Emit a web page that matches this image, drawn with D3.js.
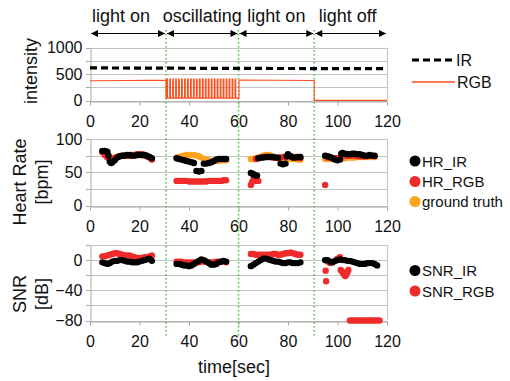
<!DOCTYPE html>
<html>
<head>
<meta charset="utf-8">
<script src="https://cdn.jsdelivr.net/npm/d3@7"></script>
<style>
  body { margin: 0; background: #fff; }
  svg { display: block; font-family: "Liberation Sans", Arial, sans-serif; }
</style>
</head>
<body>
<svg id="chart" width="510" height="381"></svg>
<script>
// phases of the experiment (seconds)
const phaseNames = ["light on", "oscillating", "light on", "light off"];
const phaseBounds = [0, 30.7, 60, 90.6, 120];

// light intensity
const irIntensity = [[0, 615], [30, 610], [60, 605], [90, 603], [120, 600]];
const rgbBefore = [[0, 372], [15, 378], [30.7, 385]];
const rgbAfter = [[60.2, 385], [75, 381], [90.6, 378], [90.6, 3], [120, 3]];
const oscPulseStarts = [31.0, 32.2, 33.4, 34.6, 35.8, 37.0, 38.2, 39.4, 40.6, 41.8, 43.0, 44.2,
  45.4, 46.6, 47.8, 49.0, 50.2, 51.4, 52.6, 53.8, 55.0, 56.2, 57.4, 58.6];
const oscHigh = 405, oscLow = 45, oscWidth = 0.3;

// heart rate [bpm]
const hrGround = [
  [5,80],[6,77],[7,74],[8,72],[9,72],[10,72],[11,73],[12,74],[13,75],[14,75],[15,75],[16,75],[17,75],[18,76],[19,76],[20,76],[21,76],[22,75],[23,74],[24,72],[25,70],
  [35,72],[36,73],[37,74],[38,75],[39,76],[40,76],[41,76],[42,76],[43,75],[44,74],[45,72],[46,70],[47,69],[48,68],[49,67],[50,67],[51,67],[52,67],[53,68],[54,68],[55,68],
  [65,70],[66,70],[67,71],[68,72],[69,73],[70,75],[71,76],[72,76],[73,75],[74,73],[75,72],[76,71],[77,71],[78,71],[79,71],[80,71],[81,70],[82,70],[83,70],[84,69],[85,69],
  [95,70],[96,70],[97,70],[98,70],[99,70],[100,70],[101,71],[102,71],[103,71],[104,72],[105,72],[106,72],[107,72],[108,73],[109,73],[110,73],[111,73],[112,73],[113,73],[114,73],[115,73]
];
const hrRGB = [
  [5,80],[6,76],[7,72],[8,70],[9,70],[10,71],[11,73],[12,74],[13,75],[14,75],[15,75],[16,75],[17,76],[18,76],[19,77],[20,77],[21,77],[22,76],[23,74],[24,72],[25,69],
  [35,37],[36,37],[37,37],[38,37],[39,37],[40,36],[41,36],[42,36],[43,36],[44,36],[45,36],[46,36],[47,36],[48,37],[49,37],[50,37],[51,37],[52,37],[53,37],[54,38],[55,38],
  [65,31],[65.5,35],[66,39],[66.5,40],[67,38],[67.5,37],[68,37],
  [67,70],[68,71],[69,72],[70,73],[71,73],[72,73],[73,73],[74,72],[75,72],[76,72],[77,72],[78,73],[79,73],[80,74],[81,74],[82,73],[83,73],[84,72],[85,71],
  [95,31],
  [96,72],[97,72],[98,71],[99,71],[100,71],[101,72],[102,74],[103,75],[104,75],[105,75],[106,75],[107,75],[108,74],[109,74],[110,74],[111,74],[112,74],[113,75],[114,75],[115,74]
];
const hrIR = [
  [5,82],[6,82],[7,81],[7.5,75],[8,66],[8.5,64],[9,65],[10,68],[11,72],[12,74],[13,75],[14,75],[15,76],[16,76],[17,75],[18,75],[19,76],[20,76],[21,76],[22,76],[23,75],[24,73],[25,71],
  [35,71],[36,70],[37,69],[38,68],[39,67],[40,66],[41,65],[42,64],[43,52],[44,51],[45,52],[46,63],[47,63],[48,64],[49,65],[50,67],[51,69],[52,70],[53,70],[54,70],[55,70],
  [65,49],[65.5,48],[66,47],[66.5,46],[67,45],[67.5,45],
  [68,71],[69,72],[70,72],[71,73],[72,73],[73,73],[74,73],[75,72],[76,72],[77,63],[78,62],[79,63],[79.5,74],[80,77],[81,74],[82,72],[83,72],[84,73],[85,73],
  [95,75],[96,74],[97,73],[98,71],[99,69],[100,68],[101,69],[101.5,78],[102,79],[103,78],[104,77],[105,77],[106,78],[107,78],[108,77],[109,77],[110,76],[111,75],[112,75],[113,76],[114,75],[115,75]
];

// SNR [dB]
const snrRGB = [
  [5,5],[6,5],[7,6],[8,7],[9,8],[10,9],[11,9],[12,8],[13,7],[14,6],[15,6],[16,6],[17,5],[18,4],[19,3],[20,3],[21,3],[22,4],[23,4],[24,5],[25,6],
  [35,-2],[36,-2],[37,-2],[38,-3],[39,-3],[40,-3],[41,-3],[42,-3],[43,-3],[44,-3],[45,-2],[46,-2],[47,-2],[48,-3],[49,-3],[50,-3],[51,-2],[52,-2],[53,-2],[54,-2],[55,-3],
  [65,8],[66,8],[67,7],[68,7],[69,7],[70,7],[71,7],[72,7],[73,7],[74,8],[75,8],[76,7],[77,7],[78,8],[79,9],[80,9],[81,10],[82,9],[83,8],[84,7],[85,7],
  [95.2,-14],[95.4,-28],[96,-2],[97,-4],[98,-3],[99,-1],[100,2],[101,4],
  [101.3,-13],[101.8,-15],[102.3,-17],[102.8,-20],[103.2,-21],[103.6,-19],[104,-16],[104.4,-13],
  [105,-80],[106,-80],[107,-80],[108,-80],[109,-80],[110,-80],[111,-80],[112,-80],[113,-80],[114,-80],[115,-80],[116,-80],[117,-80]
];
const snrIR = [
  [5,-3],[6,-4],[7,-5],[8,-4],[9,-2],[10,-1],[11,-1],[12,0],[13,0],[14,-1],[15,-2],[16,-2],[17,-3],[18,-3],[19,-3],[20,-2],[21,-1],[22,0],[23,1],[24,2],[25,-1],
  [35,-5],[36,-5],[37,-6],[38,-7],[39,-7],[40,-8],[41,-7],[42,-5],[43,-3],[44,-1],[45,1],[46,0],[47,-2],[48,-4],[49,-6],[50,-6],[51,-5],[52,-3],[53,-2],[54,-1],[55,-2],
  [65,-8],[66,-6],[67,-4],[68,-2],[69,0],[70,2],[71,2],[72,1],[73,0],[74,-1],[75,-2],[76,-2],[77,-3],[78,-4],[79,-4],[80,-3],[81,-3],[82,-4],[83,-4],[84,-4],[85,-3],
  [95,0],[96,0],[97,-2],[98,-3],[99,-1],[100,0],[101,1],[102,0],[103,0],[104,-1],[105,-1],[106,-2],[107,-3],[108,-4],[109,-5],[110,-5],[111,-5],[112,-4],[113,-4],[114,-4],[115,-5],[116,-7]
];

const timeTicks = [0, 20, 40, 60, 80, 100, 120];

const RED = "#ee2a2a", ORANGE = "#ffa41c", LINE_RGB = "#ff4f1f", GREEN = "#3ec43e";

const svg = d3.select("#chart");
svg.append("rect").attr("width", 510).attr("height", 381).attr("fill", "#fff");

const x = d3.scaleLinear().domain([0, 120]).range([90, 387]);
const yI = d3.scaleLinear().domain([0, 1000]).range([100.5, 47.5]);
const yHR = d3.scaleLinear().domain([0, 100]).range([205.5, 139]);
const ySNR = d3.scaleLinear().domain([-80, 20]).range([320.5, 245]);

function panel(y, gridStep, labels) {
  const g = svg.append("g");
  const [lo, hi] = y.domain();
  const grid = d3.range(lo, hi + 0.01, gridStep);
  g.selectAll("line.grid").data(grid).join("line")
    .attr("x1", x(0)).attr("x2", x(120))
    .attr("y1", d => Math.round(y(d)) + 0.5).attr("y2", d => Math.round(y(d)) + 0.5)
    .attr("stroke", "#c4c4c4");
  g.append("line").attr("x1", Math.round(x(120)) + 0.5).attr("x2", Math.round(x(120)) + 0.5)
    .attr("y1", y(lo)).attr("y2", y(hi)).attr("stroke", "#c4c4c4");
  // minor ticks on every grid line
  g.selectAll("line.tick").data(grid).join("line")
    .attr("x1", x(0) - 4).attr("x2", x(0))
    .attr("y1", d => Math.round(y(d)) + 0.5).attr("y2", d => Math.round(y(d)) + 0.5)
    .attr("stroke", "#a8a8a8");
  const left = g.append("g").attr("transform", `translate(${Math.round(x(0)) + 0.5},0)`)
    .call(d3.axisLeft(y).tickValues(labels).tickSize(0).tickPadding(8).tickFormat(d3.format("d")));
  left.select(".domain").attr("stroke", "#a8a8a8");
  const bottom = g.append("g").attr("transform", `translate(0,${Math.round(y(lo)) + 0.5})`)
    .call(d3.axisBottom(x).tickValues(timeTicks).tickSize(4).tickPadding(10));
  bottom.select(".domain").attr("stroke", "#a8a8a8");
  bottom.selectAll(".tick line").attr("stroke", "#a8a8a8");
  g.selectAll(".tick text").attr("font-size", 16).attr("fill", "#111")
    .attr("font-family", "Liberation Sans, Arial, sans-serif");
  return g;
}

panel(yI, 250, [0, 500, 1000]);
panel(yHR, 25, [0, 50, 100]);
panel(ySNR, 20, [-80, -40, 0]);

// phase separators
svg.selectAll("line.sep").data(phaseBounds.slice(1, 4)).join("line")
  .attr("x1", d => x(d)).attr("x2", d => x(d)).attr("y1", 30).attr("y2", 336)
  .attr("stroke", GREEN).attr("stroke-width", 1.5).attr("stroke-dasharray", "1.5,2.5");

// phase arrows and labels
const defs = svg.append("defs");
["s", "e"].forEach(k => {
  defs.append("marker").attr("id", "arr-" + k).attr("viewBox", "0 0 10 10")
    .attr("refX", k === "e" ? 10 : 0).attr("refY", 5)
    .attr("markerWidth", 8).attr("markerHeight", 7).attr("markerUnits", "userSpaceOnUse")
    .attr("orient", "auto")
    .append("path").attr("d", k === "e" ? "M0,0L10,5L0,10Z" : "M10,0L0,5L10,10Z").attr("fill", "#000");
});
const phases = phaseNames.map((name, i) => ({ name, a: phaseBounds[i], b: phaseBounds[i + 1] }));
svg.selectAll("line.arrow").data(phases).join("line")
  .attr("x1", d => x(d.a) + 1).attr("x2", d => x(d.b) - 1).attr("y1", 33.5).attr("y2", 33.5)
  .attr("stroke", "#000").attr("stroke-width", 1.2)
  .attr("marker-start", "url(#arr-s)").attr("marker-end", "url(#arr-e)");
const labelShift = [-7, 0, 0, -3];
svg.selectAll("text.phase").data(phases).join("text")
  .attr("x", (d, i) => x((d.a + d.b) / 2) + labelShift[i]).attr("y", 22)
  .attr("text-anchor", "middle").attr("font-size", 18).attr("fill", "#111").text(d => d.name);

// intensity lines
const line = d3.line().x(d => x(d[0])).y(d => yI(d[1]));
const rgbLine = [...rgbBefore, [rgbBefore[rgbBefore.length - 1][0], oscLow]];
oscPulseStarts.forEach(t => {
  rgbLine.push([t, oscLow], [t, oscHigh], [t + oscWidth, oscHigh], [t + oscWidth, oscLow]);
});
rgbLine.push([rgbAfter[0][0], oscLow], ...rgbAfter);
svg.append("path").datum(rgbLine).attr("d", line).attr("fill", "none")
  .attr("stroke", LINE_RGB).attr("stroke-width", 1.1);
svg.append("path").datum(irIntensity).attr("d", line).attr("fill", "none")
  .attr("stroke", "#000").attr("stroke-width", 3.2).attr("stroke-dasharray", "7,4");

// scatter series
function dots(data, y, color) {
  svg.append("g").selectAll("circle").data(data).join("circle")
    .attr("cx", d => x(d[0])).attr("cy", d => y(d[1])).attr("r", 3.2).attr("fill", color);
}
dots(hrGround, yHR, ORANGE);
dots(hrRGB, yHR, RED);
dots(hrIR, yHR, "#000");
dots(snrRGB, ySNR, RED);
dots(snrIR, ySNR, "#000");

// axis titles
function vTitle(lines, cx, cy) {
  const t = svg.append("text").attr("transform", `translate(${cx},${cy}) rotate(-90)`)
    .attr("text-anchor", "middle").attr("font-size", 18).attr("fill", "#111");
  lines.forEach((s, i) => t.append("tspan").attr("x", 0).attr("dy", i === 0 ? 0 : 22).text(s));
}
vTitle(["intensity"], 37, 71);
vTitle(["Heart Rate", "[bpm]"], 26, 182);
vTitle(["SNR", "[dB]"], 26, 294);
svg.append("text").attr("x", 234).attr("y", 373).attr("text-anchor", "middle")
  .attr("font-size", 18).attr("fill", "#111").text("time[sec]");

// legends
const lg = svg.append("g").attr("font-size", 16).attr("fill", "#111");
lg.append("line").attr("x1", 412).attr("x2", 452).attr("y1", 60).attr("y2", 60)
  .attr("stroke", "#000").attr("stroke-width", 3.2).attr("stroke-dasharray", "7,4");
lg.append("text").attr("x", 456).attr("y", 66).text("IR");
lg.append("line").attr("x1", 412).attr("x2", 455).attr("y1", 82).attr("y2", 82)
  .attr("stroke", LINE_RGB).attr("stroke-width", 1.5);
lg.append("text").attr("x", 457).attr("y", 88).text("RGB");

const dotLegend = [
  { name: "HR_IR", color: "#000", y: 161 },
  { name: "HR_RGB", color: RED, y: 181.5 },
  { name: "ground truth", color: ORANGE, y: 201.5 },
  { name: "SNR_IR", color: "#000", y: 270.5 },
  { name: "SNR_RGB", color: RED, y: 291 }
];
const items = lg.selectAll("g.item").data(dotLegend).join("g")
  .attr("transform", d => `translate(415,${d.y})`);
items.append("circle").attr("r", 5.5).attr("fill", d => d.color);
items.append("text").attr("x", 7).attr("y", 5.5).attr("font-size", 15).text(d => d.name);
</script>
</body>
</html>
